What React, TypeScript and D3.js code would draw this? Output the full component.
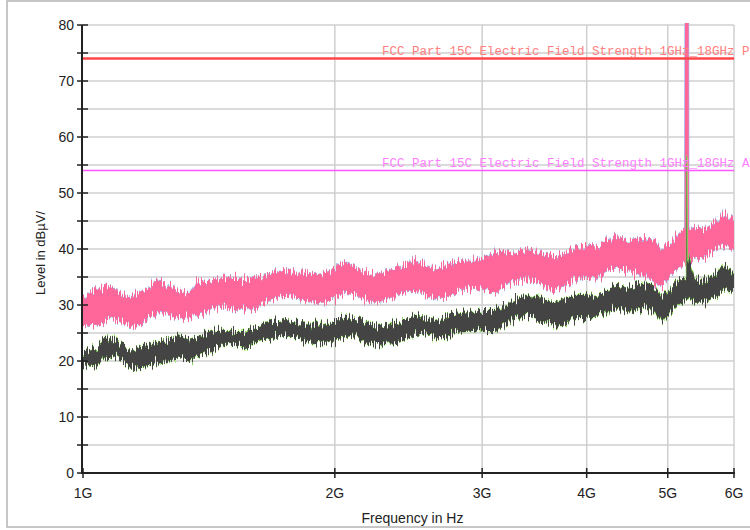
import React from 'react';
import * as d3 from 'd3';

// frequency (GHz) and band envelopes (dBµV/m)
const peakFreq = [1.0, 1.034, 1.062, 1.086, 1.107, 1.138, 1.17, 1.203, 1.236, 1.271, 1.306, 1.343, 1.361, 1.399, 1.438, 1.478, 1.52, 1.562, 1.606, 1.651, 1.697, 1.744, 1.793, 1.843, 1.894, 1.947, 2.002, 2.057, 2.115, 2.174, 2.235, 2.297, 2.361, 2.427, 2.495, 2.564, 2.636, 2.709, 2.785, 2.863, 2.943, 3.025, 3.109, 3.196, 3.285, 3.377, 3.471, 3.568, 3.668, 3.77, 3.875, 3.984, 4.095, 4.209, 4.327, 4.447, 4.534, 4.695, 4.826, 4.92, 5.03, 5.17, 5.238, 5.243, 5.295, 5.3, 5.388, 5.538, 5.692, 5.851, 6.0];
const peakHi = [31.2, 32.7, 33.2, 33.0, 32.1, 31.4, 32.3, 33.6, 34.6, 33.2, 32.3, 32.1, 34.1, 34.5, 34.8, 35.0, 34.8, 34.5, 35.0, 35.4, 35.9, 36.2, 35.9, 35.7, 35.4, 35.7, 36.6, 38.0, 36.8, 35.7, 35.4, 35.9, 36.6, 37.1, 38.0, 37.1, 36.6, 37.1, 37.7, 38.0, 38.0, 38.4, 39.3, 39.5, 39.5, 39.8, 39.5, 38.9, 38.6, 39.5, 40.2, 40.4, 40.4, 41.3, 42.5, 41.6, 41.6, 42.1, 41.1, 39.8, 41.1, 42.9, 43.5, 85, 85, 43.5, 43.9, 43.4, 44.6, 46.4, 45.2];
const peakLo = [26.4, 26.0, 27.0, 27.9, 27.0, 26.0, 26.4, 27.9, 28.6, 27.9, 27.7, 27.9, 27.9, 28.6, 29.5, 29.6, 29.1, 29.1, 29.6, 30.4, 31.2, 31.8, 31.2, 30.9, 30.4, 30.5, 31.2, 32.1, 31.8, 30.9, 30.5, 30.9, 31.4, 32.3, 32.7, 31.8, 31.2, 31.4, 32.1, 32.7, 33.0, 32.7, 32.1, 33.6, 34.1, 34.5, 34.1, 33.2, 32.7, 33.6, 34.5, 34.8, 34.8, 35.7, 36.8, 36.2, 35.7, 35.0, 33.9, 33.2, 35.0, 36.8, 37.5, 37.5, 37.8, 37.8, 38.0, 38.6, 39.8, 40.4, 39.8];

const avgFreq = [1.0, 1.034, 1.062, 1.086, 1.107, 1.138, 1.17, 1.203, 1.236, 1.271, 1.306, 1.343, 1.361, 1.399, 1.438, 1.478, 1.52, 1.562, 1.606, 1.651, 1.697, 1.744, 1.793, 1.843, 1.894, 1.947, 2.002, 2.057, 2.115, 2.174, 2.235, 2.297, 2.361, 2.427, 2.495, 2.564, 2.636, 2.709, 2.785, 2.863, 2.943, 3.025, 3.109, 3.196, 3.285, 3.377, 3.471, 3.568, 3.668, 3.77, 3.875, 3.984, 4.095, 4.209, 4.327, 4.447, 4.534, 4.695, 4.826, 4.92, 5.03, 5.17, 5.262, 5.267, 5.271, 5.276, 5.3, 5.388, 5.538, 5.692, 5.851, 6.0];
const avgHi = [21.6, 22.3, 24.1, 24.3, 23.4, 22.0, 22.3, 22.9, 23.4, 24.1, 24.8, 23.8, 24.1, 25.0, 25.5, 25.5, 25.2, 25.2, 26.1, 26.8, 27.0, 27.3, 27.0, 26.8, 26.4, 26.8, 27.3, 27.9, 27.7, 26.8, 26.1, 26.4, 26.8, 27.3, 28.0, 27.9, 27.3, 27.7, 28.6, 28.6, 28.8, 29.1, 29.1, 30.0, 30.9, 31.8, 31.4, 30.9, 30.4, 31.2, 31.8, 31.8, 31.4, 32.3, 33.2, 33.0, 33.2, 33.9, 33.2, 31.4, 32.7, 34.5, 34.8, 57, 57, 36.5, 38.5, 34.5, 34.5, 35.7, 37.1, 35.9];
const avgLo = [19.3, 18.9, 20.5, 21.0, 20.2, 18.9, 18.6, 19.3, 19.6, 20.2, 20.5, 19.8, 20.5, 21.4, 22.0, 22.9, 22.9, 22.5, 23.2, 23.8, 24.3, 24.6, 24.1, 23.4, 23.2, 22.9, 23.4, 24.3, 24.6, 23.4, 22.9, 23.2, 23.4, 24.1, 24.6, 25.0, 24.1, 24.1, 25.0, 25.2, 25.5, 25.2, 25.2, 26.4, 27.3, 27.9, 27.7, 27.0, 26.1, 26.4, 27.7, 27.7, 27.9, 28.6, 29.6, 29.1, 28.6, 29.5, 28.6, 26.8, 28.6, 30.4, 31.0, 31.0, 31.0, 31.0, 31.5, 30.4, 30.5, 31.4, 32.7, 32.3];

const limits = [
  { name: 'FCC Part 15C Electric Field Strength 1GHz_18GHz PK', value: 74, line: '#ff4646', text: '#ff8080', width: 2.5 },
  { name: 'FCC Part 15C Electric Field Strength 1GHz_18GHz AV', value: 54, line: '#ff55ff', text: '#ff80ff', width: 1.5 },
];

const yMajor = [0, 10, 20, 30, 40, 50, 60, 70, 80];
const yGrid = [5, 10, 15, 20, 25, 30, 35, 40, 45, 50, 55, 60, 65, 70, 75, 80];
const xTicks = [1, 2, 3, 4, 5, 6];

const W = 750;
const H = 530;
const left = 83;
const right = 734;
const top = 25;
const bottom = 473;

type Pt = { f: number; hi: number; lo: number };

const App: React.FC = () => {
  const x = d3.scaleLog().domain([1, 6]).range([left, right]);
  const y = d3.scaleLinear().domain([0, 80]).range([bottom, top]);

  const peak: Pt[] = peakFreq.map((f, i) => ({ f, hi: peakHi[i], lo: peakLo[i] }));
  const avg: Pt[] = avgFreq.map((f, i) => ({ f, hi: avgHi[i], lo: avgLo[i] }));

  const band = d3.area<Pt>()
    .x((d) => x(d.f))
    .y0((d) => y(d.lo))
    .y1((d) => y(d.hi));

  const sans = 'Arial, "Liberation Sans", sans-serif';

  return (
    <div style={{ position: 'fixed', left: 0, top: 0, background: '#fff' }}>
      <svg width={W} height={H} style={{ display: 'block' }}>
        <defs>
          <clipPath id="plot">
            <rect x={left} y={top - 2} width={right - left} height={bottom - top + 2} />
          </clipPath>
          {/* vertical-only jitter to give the sweep its noisy edge */}
          <filter id="noise" x="-2%" y="-30%" width="104%" height="160%" colorInterpolationFilters="sRGB">
            <feTurbulence type="fractalNoise" baseFrequency="0.9 0.03" numOctaves={3} seed={4} result="t" />
            <feColorMatrix in="t" type="matrix"
              values="1 0 0 0 0  0 0 0 0 0.5  0 0 1 0 0  0 0 0 0 1" result="m" />
            <feDisplacementMap in="SourceGraphic" in2="m" scale={20} xChannelSelector="G" yChannelSelector="R" />
          </filter>
        </defs>

        {/* outer frame */}
        <rect x={7} y={1} width={W} height={526} fill="none" stroke="#b4b4b4" strokeWidth={1.5} />

        {/* grid */}
        {yGrid.map((v) => (
          <line key={'gy' + v} x1={left} x2={right} y1={y(v)} y2={y(v)} stroke="#cfcfcf" strokeWidth={1.5} />
        ))}
        {xTicks.slice(1).map((v) => (
          <line key={'gx' + v} x1={x(v)} x2={x(v)} y1={top} y2={bottom} stroke="#cfcfcf" strokeWidth={1.5} />
        ))}

        {/* traces */}
        <g clipPath="url(#plot)">
          <g filter="url(#noise)">
            <path d={band(peak) || ''} fill="#99c4f5" stroke="#99c4f5" strokeWidth={1.2} />
            <path d={band(peak) || ''} fill="#ff6699" />
            <path d={band(avg) || ''} fill="#8ff05a" stroke="#8ff05a" strokeWidth={1.2} />
            <path d={band(avg) || ''} fill="#444444" />
          </g>
        </g>

        {/* limit lines */}
        {limits.map((l) => (
          <g key={l.name}>
            <line x1={left} x2={right} y1={y(l.value)} y2={y(l.value)} stroke={l.line} strokeWidth={l.width} />
            <text x={382} y={y(l.value) - 4} fill={l.text} fontFamily='"Liberation Mono", monospace' fontSize={12.5}>
              {l.name}
            </text>
          </g>
        ))}

        {/* axes */}
        <line x1={left - 1} x2={left - 1} y1={top} y2={bottom + 1} stroke="#222" strokeWidth={2} />
        <line x1={left - 1} x2={right + 1} y1={bottom} y2={bottom} stroke="#222" strokeWidth={2} />
        {yGrid.concat([0]).map((v) => (
          <line key={'ty' + v} x1={left - 6} x2={left + 5} y1={y(v)} y2={y(v)} stroke="#222" strokeWidth={1.5} />
        ))}
        {yMajor.map((v) => (
          <text key={'ly' + v} x={left - 9} y={y(v)} dy="0.35em" textAnchor="end" fontFamily={sans} fontSize={14} fill="#222">
            {v}
          </text>
        ))}
        {xTicks.map((v) => (
          <g key={'tx' + v}>
            <line x1={x(v)} x2={x(v)} y1={bottom - 5} y2={bottom + 5} stroke="#222" strokeWidth={1.5} />
            <text x={x(v)} y={bottom + 25} textAnchor="middle" fontFamily={sans} fontSize={14} fill="#222">
              {v + 'G'}
            </text>
          </g>
        ))}

        <text x={(left + right) / 2 + 4} y={523} textAnchor="middle" fontFamily={sans} fontSize={14} fill="#222">
          Frequency in Hz
        </text>
        <text transform={`translate(45, ${(top + bottom) / 2 + 4}) rotate(-90)`} textAnchor="middle"
          fontFamily={sans} fontSize={13} fill="#222">
          Level in dBµV/
        </text>
      </svg>
    </div>
  );
};

export default App;
